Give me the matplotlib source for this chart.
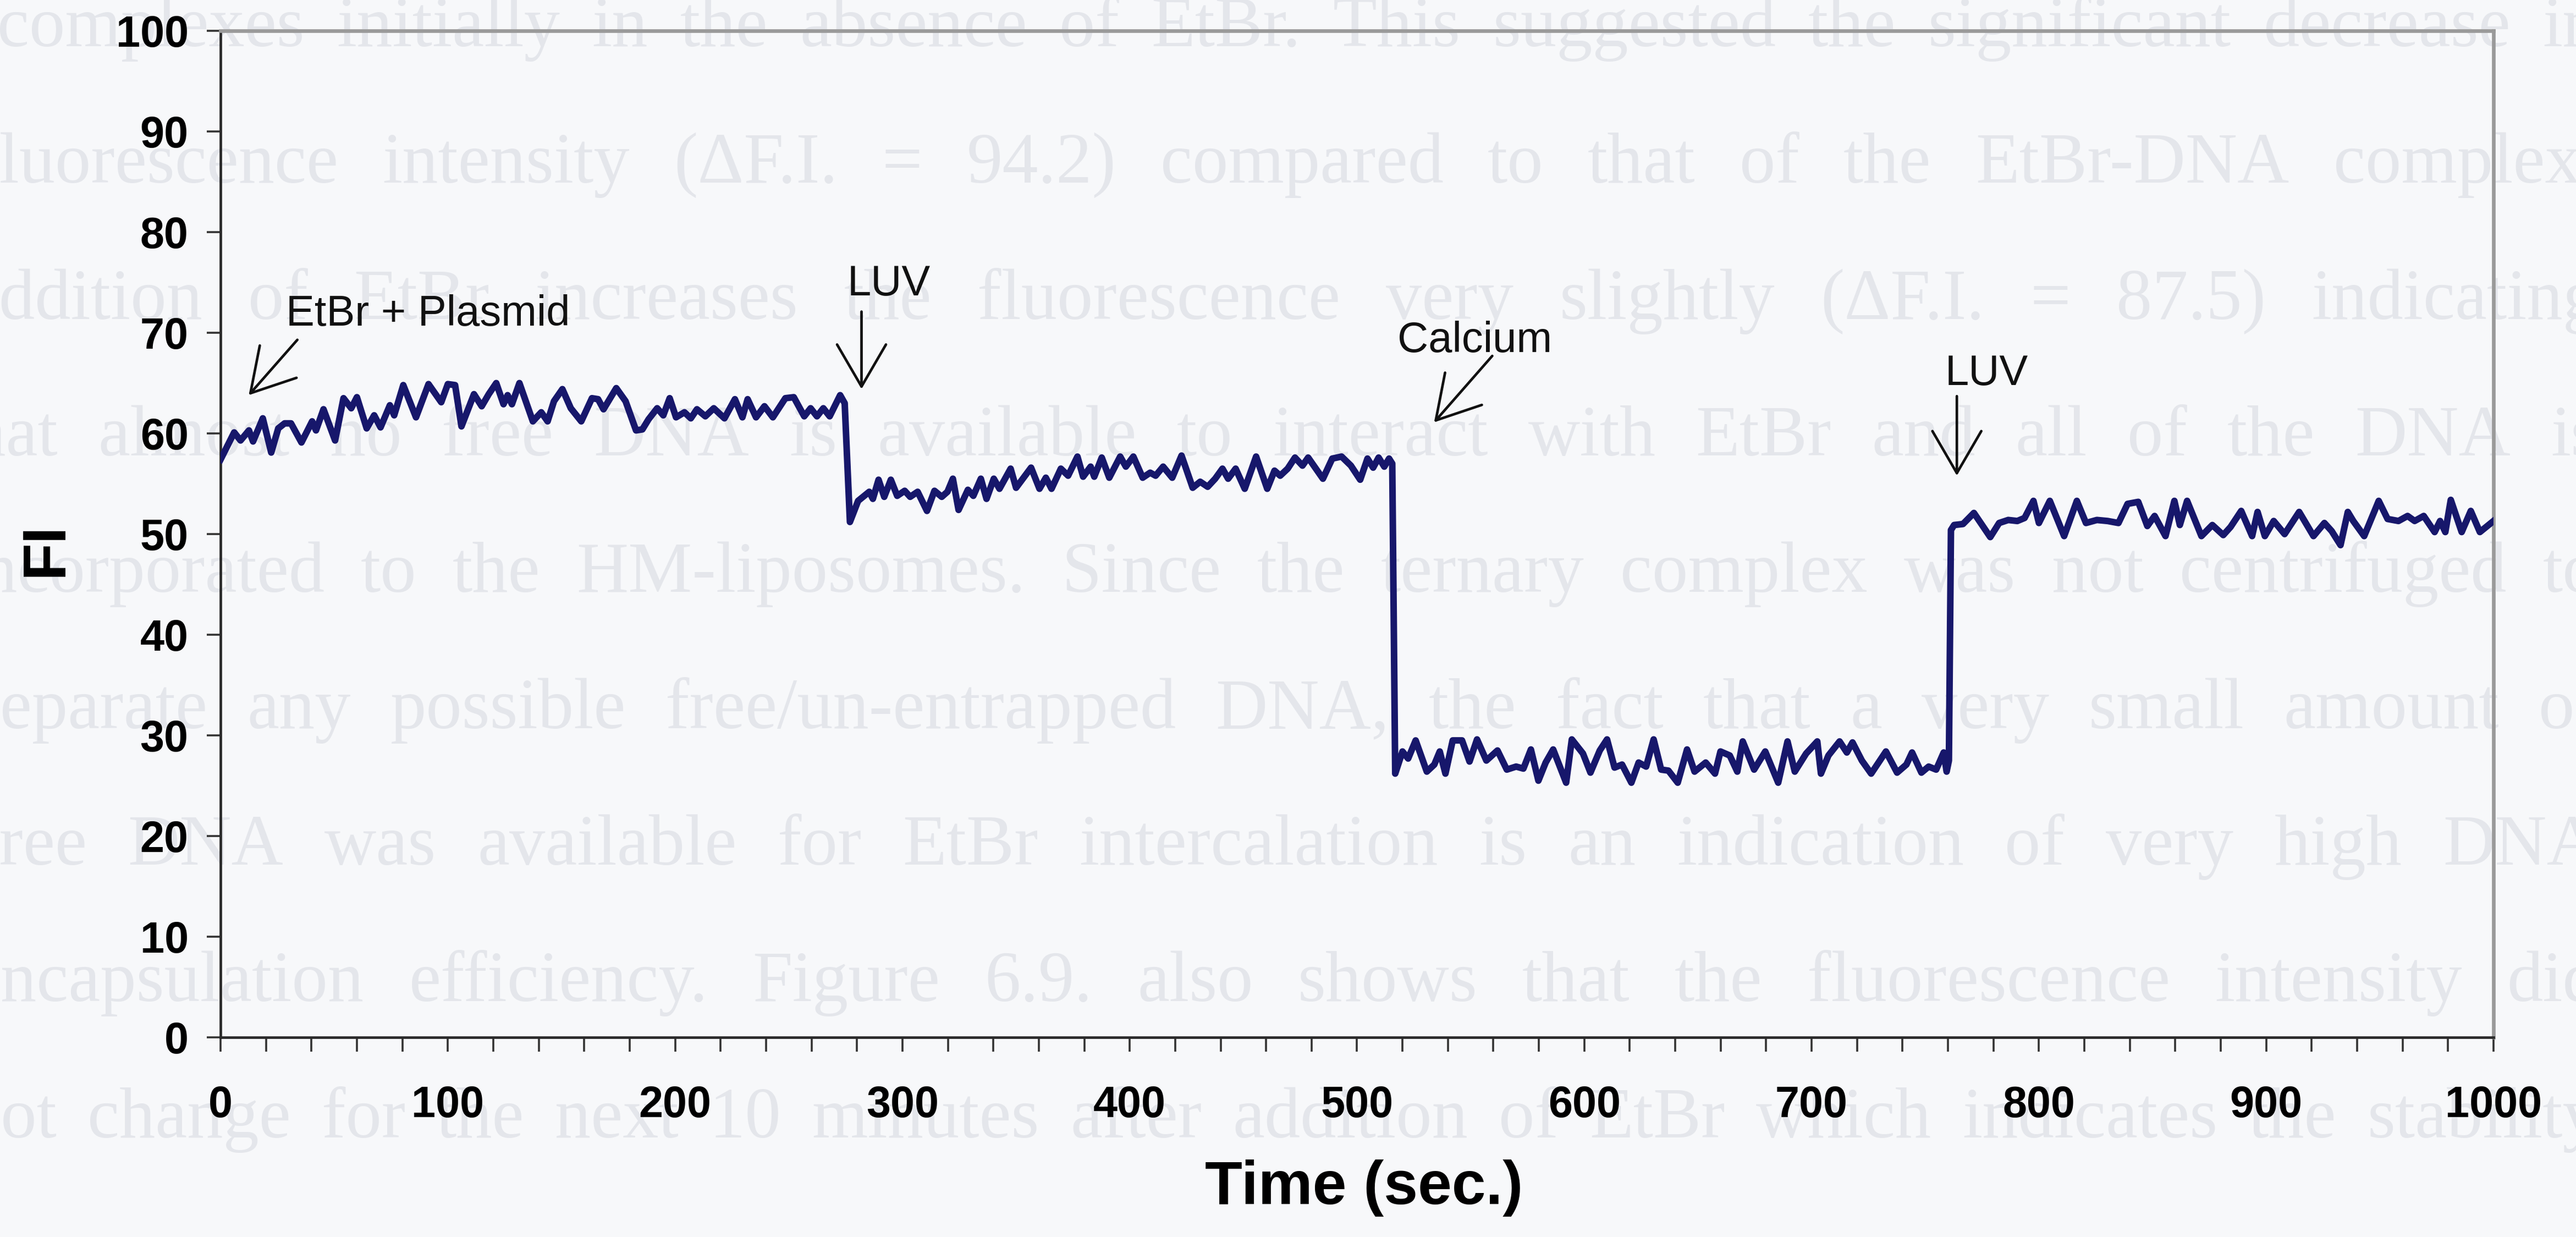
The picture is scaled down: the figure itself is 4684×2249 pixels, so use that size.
import matplotlib
matplotlib.use("Agg")
import matplotlib.pyplot as plt
from matplotlib.ticker import MultipleLocator

W, H, DPI = 4684, 2249, 200

# Fluorescence trace: time (s) and intensity
time_s = [
    0.0, 6.0, 8.8, 12.5, 14.3, 18.6, 22.3, 25.4, 28.2, 31.0, 35.6, 40.3, 42.0,
    45.3, 50.4, 54.1, 57.5, 60.0, 64.3, 67.6, 70.4, 74.5, 76.4, 80.4, 86.0,
    91.5, 97.1, 100.0, 103.2, 106.0, 111.5, 114.9, 118.0, 121.3, 124.5, 126.3,
    128.2, 131.5, 137.4, 141.1, 143.9, 146.7, 150.4, 154.1, 158.7, 163.4,
    166.1, 168.5, 174.1, 178.2, 182.8, 185.6, 188.3, 192.1, 194.8, 197.6,
    200.4, 204.1, 206.9, 209.6, 213.3, 217.0, 221.7, 226.3, 229.6, 231.9,
    235.6, 239.3, 243.0, 248.5, 252.2, 256.8, 259.6, 262.4, 265.2, 268.0,
    272.6, 274.6, 276.9,
    280.5, 285.4, 287.0, 289.5, 292.0, 294.9, 297.7, 301.0, 303.4, 306.7,
    310.8, 314.1, 317.3, 319.8, 322.2, 324.7, 328.8, 331.2, 334.5, 337.0,
    340.2, 342.7, 347.6, 350.0, 356.6, 360.3, 363.1, 365.6, 369.7, 372.9,
    377.0, 379.5, 382.8, 384.4, 387.7, 391.0, 395.8, 398.3, 401.6, 405.7,
    409.0, 411.4, 414.7, 418.7, 422.8, 427.7, 431.0, 434.3, 437.6, 440.8,
    443.3, 446.6, 450.6, 455.6, 460.5, 463.7, 466.2, 469.5, 472.7, 476.0,
    478.5, 485.0, 489.1, 493.2, 497.3, 501.4, 504.6, 507.1, 509.5, 512.0,
    514.1, 515.5, 516.8,
    520.0, 522.5, 525.8, 530.7, 534.0, 536.4, 538.9, 542.1, 546.2, 549.5,
    552.8, 556.9, 561.8, 565.9, 570.0, 573.2, 576.5, 579.8, 583.0, 586.3,
    592.0, 594.5, 599.4, 602.7, 606.8, 610.0, 613.3, 616.6, 620.7, 623.9,
    627.2, 630.5, 633.8, 637.0, 641.1, 645.2, 648.5, 653.4, 657.5, 659.9,
    664.0, 667.3, 669.7, 674.7, 679.6, 685.3, 689.4, 692.6, 697.6, 702.5,
    704.1, 707.4, 712.3, 715.5, 718.0, 722.1, 726.2, 732.7, 737.6, 741.7,
    744.2, 748.3, 751.5, 754.8, 758.1, 759.4, 760.4, 761.3,
    762.7, 766.6, 771.4, 778.6, 782.5, 786.5, 790.5, 793.7, 797.6, 800.0,
    804.8, 811.1, 816.7, 820.7, 825.5, 830.2, 835.0, 839.0, 843.7, 847.7,
    850.9, 855.7, 859.6, 862.0, 865.2, 871.5, 876.3, 881.1, 884.3, 889.0,
    893.8, 896.2, 899.4, 903.3, 908.1, 914.5, 920.8, 925.6, 928.8, 932.7,
    935.9, 938.3, 943.1, 949.5, 953.4, 958.2, 962.2, 965.3, 969.3, 974.1,
    976.5, 978.8, 981.2, 986.0, 990.0, 994.0, 1000.0,
]
fi = [
    57.4, 60.1, 59.3, 60.3, 59.2, 61.5, 58.1, 60.5, 61.0, 61.0, 59.1, 61.2, 60.3,
    62.4, 59.3, 63.5, 62.5, 63.6, 60.5, 61.8, 60.6, 62.8, 61.8, 64.8, 61.6,
    64.9, 63.1, 64.9, 64.8, 60.7, 63.9, 62.7, 63.9, 65.0, 62.9, 63.8,
    62.9, 65.0, 61.2, 62.1, 61.2, 63.2, 64.4, 62.5, 61.2, 63.5,
    63.4, 62.4, 64.5, 63.2, 60.3, 60.4, 61.4, 62.5, 61.8, 63.5,
    61.6, 62.1, 61.5, 62.4, 61.7, 62.5, 61.5, 63.4, 61.6, 63.4,
    61.6, 62.7, 61.6, 63.5, 63.6, 61.7, 62.5, 61.7, 62.5, 61.7,
    63.8, 63.0, 51.2,
    53.3, 54.2, 53.5, 55.4, 53.7, 55.4, 53.8, 54.3, 53.7, 54.2,
    52.3, 54.3, 53.7, 54.2, 55.5, 52.4, 54.4, 53.8, 55.5, 53.5,
    55.5, 54.5, 56.5, 54.6, 56.6, 54.5, 55.6, 54.5, 56.5, 55.8,
    57.7, 55.7, 56.7, 55.7, 57.6, 55.6, 57.7, 56.7, 57.7, 55.6,
    56.1, 55.8, 56.7, 55.6, 57.8, 54.6, 55.2, 54.7, 55.5, 56.5,
    55.5, 56.5, 54.5, 57.7, 54.5, 56.3, 55.8, 56.5, 57.6, 56.8,
    57.6, 55.5, 57.5, 57.7, 56.8, 55.4, 57.5, 56.6, 57.6, 56.7,
    57.5, 57.0, 26.2,
    28.4, 27.7, 29.5, 26.4, 27.1, 28.4, 26.2, 29.5, 29.5, 27.4,
    29.6, 27.5, 28.5, 26.6, 26.9, 26.7, 28.6, 25.5, 27.3, 28.6,
    25.3, 29.6, 28.2, 26.3, 28.5, 29.6, 26.8, 27.1, 25.3, 27.3,
    26.9, 29.6, 26.6, 26.5, 25.3, 28.6, 26.4, 27.3, 26.2, 28.4,
    28.0, 26.4, 29.4, 26.6, 28.4, 25.3, 29.4, 26.4, 28.2, 29.4,
    26.2, 28.0, 29.4, 28.3, 29.3, 27.5, 26.2, 28.4, 26.3, 27.1,
    28.3, 26.3, 26.9, 26.6, 28.3, 26.4, 27.5, 50.4,
    50.9, 51.0, 52.1, 49.7, 51.1, 51.4, 51.3, 51.6, 53.3, 51.1,
    53.3, 49.8, 53.3, 51.1, 51.4, 51.3, 51.1, 53.0, 53.2, 50.8,
    51.8, 49.8, 53.3, 50.9, 53.3, 49.8, 50.9, 49.9, 50.7, 52.3,
    49.8, 52.2, 49.8, 51.3, 50.0, 52.2, 49.8, 51.1, 50.3, 48.9,
    52.2, 51.3, 49.8, 53.3, 51.5, 51.3, 51.8, 51.3, 51.8, 50.2,
    51.3, 50.2, 53.4, 50.2, 52.3, 50.2, 51.3,
]

x_ticks = list(range(0, 1001, 100))
y_ticks = list(range(0, 101, 10))

# Additions: label, label position (baseline-left), arrow tail, arrow head
event_labels = ["EtBr + Plasmid", "LUV", "Calcium", "LUV"]
event_text_xy = [(28.8, 70.7), (275.8, 73.7), (517.9, 68.1), (758.8, 64.8)]
event_arrow_tail = [(33.8, 69.3), (282.0, 72.1), (559.5, 67.7), (763.9, 63.7)]
event_arrow_head = [(12.4, 63.8), (282.0, 64.4), (533.9, 61.1), (763.9, 55.8)]

# Running text of the page the figure sits on
page_lines = [
    "complexes initially in the absence of EtBr.  This suggested the significant decrease in",
    "fluorescence intensity (\u0394F.I. = 94.2) compared to that of the EtBr-DNA complex.",
    "addition of EtBr increases the fluorescence very slightly (\u0394F.I. = 87.5) indicating",
    "that almost no free DNA is available to interact with EtBr and all of the DNA is",
    "incorporated to the HM-liposomes.  Since the ternary complex was not centrifuged to",
    "separate any possible free/un-entrapped DNA, the fact that a very small amount of",
    "free DNA was available for EtBr intercalation is an indication of very high DNA",
    "encapsulation efficiency.  Figure 6.9. also shows that the fluorescence intensity did",
    "not change for the next 10 minutes after addition of EtBr which indicates the stability",
]
page_line_start = [-5, -45, -60, -90, -70, -50, -45, -56, -64]

PAGE_BG = "#f7f8fa"
TRACE = "#17176b"

fig = plt.figure(figsize=(W / DPI, H / DPI), dpi=DPI, facecolor=PAGE_BG)
ax = fig.add_axes([401 / W, 1 - 1886 / H, (4534 - 401) / W, (1886 - 56) / H])
ax.set_facecolor("none")

ax.plot(time_s, fi, color=TRACE, lw=4.3, solid_joinstyle="round", zorder=3)

ax.set_xlim(0, 1000)
ax.set_ylim(0, 100)
ax.set_xticks(x_ticks)
ax.set_yticks(y_ticks)
ax.xaxis.set_minor_locator(MultipleLocator(20))

tick_font = dict(family="Liberation Sans", weight="bold", size=28.5)
ax.set_xticklabels([str(v) for v in x_ticks], fontdict=tick_font)
ax.set_yticklabels([str(v) for v in y_ticks], fontdict=tick_font)
ax.tick_params(axis="x", which="both", direction="out", length=9.5, width=1.3,
               color="#333333", pad=22)
ax.tick_params(axis="y", which="major", direction="out", length=9, width=1.3,
               color="#333333", pad=12)

for side in ("left", "bottom"):
    ax.spines[side].set_color("#2a2a2a")
    ax.spines[side].set_linewidth(1.7)
for side in ("top", "right"):
    ax.spines[side].set_color("#9a9a9a")
    ax.spines[side].set_linewidth(2.4)

ax.set_xlabel("Time (sec.)", family="Liberation Sans", weight="bold", size=40)
ax.xaxis.label.set_va("center")
ax.xaxis.set_label_coords(0.503, -0.150)
ax.set_ylabel("FI", family="Liberation Sans", weight="bold", size=40)
ax.yaxis.label.set_va("center")
ax.yaxis.set_label_coords(-0.0767, 0.485)

for label, txy, tail, head in zip(event_labels, event_text_xy,
                                  event_arrow_tail, event_arrow_head):
    ax.text(txy[0], txy[1], label, family="Liberation Sans", size=28,
            ha="left", va="baseline", color="#111111", zorder=4)
    ax.annotate("", xy=head, xytext=tail,
                arrowprops=dict(arrowstyle="->,head_length=0.55,head_width=0.32",
                                mutation_scale=50, lw=1.7, color="#111111",
                                shrinkA=0, shrinkB=0),
                zorder=4)

# Faint justified page text behind the chart
fig.canvas.draw()
renderer = fig.canvas.get_renderer()
X_END = 4725
for i, (line, x0) in enumerate(zip(page_lines, page_line_start)):
    base = 84 + 248 * i
    words = line.split()
    objs = [fig.text(0, 1 - base / H, w, family="Liberation Serif", size=47,
                     color="#e4e6eb", ha="left", va="baseline", zorder=-5)
            for w in words]
    widths = [o.get_window_extent(renderer).width for o in objs]
    gap = (X_END - x0 - sum(widths)) / (len(words) - 1)
    x = x0
    for o, w in zip(objs, widths):
        o.set_x(x / W)
        x += w + gap

fig.savefig("out.png", dpi=DPI, facecolor=PAGE_BG)
